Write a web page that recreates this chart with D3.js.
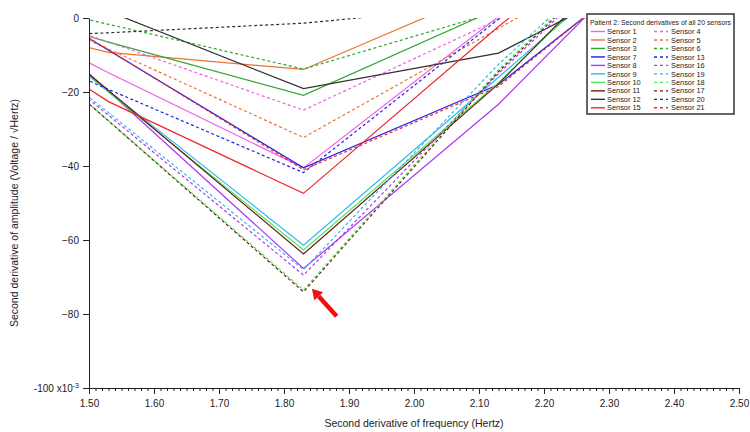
<!DOCTYPE html>
<html>
<head>
<meta charset="utf-8">
<script src="https://cdn.jsdelivr.net/npm/d3@7"></script>
<style>
  body { margin: 0; background: #fff; }
  svg { font-family: "Liberation Sans", Arial, sans-serif; }
  .axis text { font-size: 10px; fill: #222; }
  .axis path, .axis line { stroke: #222; }
</style>
</head>
<body>
<div id="chart"></div>
<script>
// x positions shared by every sensor
var xPoints = [1.23, 1.53, 1.83, 2.13, 2.43];

// second derivative of amplitude (x10^-3) at each x point
var sensor1 = [12.2, -14.8, -40.5, 0.4, 20];
var sensor2 = [3.7, -9.3, -13.9, 8.6, 20];
var sensor3 = [8.5, -6.5, -20.9, 2.6, 20];
var sensor4 = [11.5, -6.5, -24.9, -0.4, 30];
var sensor5 = [15.6, -8.4, -32.3, -2.8, 26.7];
var sensor6 = [10.3, -1.7, -13.8, 1.8, 20];
var sensor7 = [23.3, -8.7, -40.5, -18, 23.5];
var sensor8 = [28.2, -19.8, -67.7, -23.3, 29.7];
var sensor9 = [22, -19.7, -61.4, -16, 29.7];
var sensor10 = [22.9, -20.1, -62.7, -17.5, 34];
var sensor11 = [24.4, -19.6, -63.8, -17.8, 35.6];
var sensor12 = [5, 1.8, -19.1, -9.5, 17.6];
var sensor13 = [3.7, -19.3, -41.8, -0.3, 30];
var sensor15 = [11.4, -22.6, -47.4, -2.3, 40];
var sensor16 = [16.7, -26.3, -69.5, -15, 35];
var sensor17 = [18.2, -27.8, -74, -14.5, 36.1];
var sensor18 = [18.2, -27.8, -73.5, -14, 36.6];
var sensor19 = [16.4, -25.6, -68, -12.5, 35.6];
var sensor20 = [-6, -4.0, -1.4, 3.6, 10];
var sensor21 = [23, -8.6, -41, -18.5, 24];

var sensorNames = ["Sensor 1", "Sensor 2", "Sensor 3", "Sensor 4", "Sensor 5", "Sensor 6",
  "Sensor 7", "Sensor 8", "Sensor 9", "Sensor 10", "Sensor 11", "Sensor 12", "Sensor 13",
  "Sensor 15", "Sensor 16", "Sensor 17", "Sensor 18", "Sensor 19", "Sensor 20", "Sensor 21"];
var sensorValues = [sensor1, sensor2, sensor3, sensor4, sensor5, sensor6, sensor7, sensor8,
  sensor9, sensor10, sensor11, sensor12, sensor13, sensor15, sensor16, sensor17, sensor18,
  sensor19, sensor20, sensor21];

// legend layout (two columns, as in the original)
var legendLeft = ["Sensor 1", "Sensor 2", "Sensor 3", "Sensor 7", "Sensor 8", "Sensor 9",
  "Sensor 10", "Sensor 11", "Sensor 12", "Sensor 15"];
var legendRight = ["Sensor 4", "Sensor 5", "Sensor 6", "Sensor 13", "Sensor 16", "Sensor 19",
  "Sensor 18", "Sensor 17", "Sensor 20", "Sensor 21"];

var xTicks = [1.5, 1.6, 1.7, 1.8, 1.9, 2.0, 2.1, 2.2, 2.3, 2.4, 2.5];
var yTicks = [0, -20, -40, -60, -80, -100];

// styles
var colors = {
  "Sensor 1": "#f060e0", "Sensor 4": "#f060e0",
  "Sensor 2": "#f07030", "Sensor 5": "#f07030",
  "Sensor 3": "#30a830", "Sensor 6": "#30a830",
  "Sensor 7": "#2020e8", "Sensor 13": "#2020e8",
  "Sensor 8": "#a838f8", "Sensor 16": "#a838f8",
  "Sensor 9": "#30b8f0", "Sensor 19": "#30b8f0",
  "Sensor 10": "#50e850", "Sensor 18": "#50e850",
  "Sensor 11": "#681818", "Sensor 17": "#681818",
  "Sensor 12": "#303030", "Sensor 20": "#303030",
  "Sensor 15": "#f02828", "Sensor 21": "#f02828"
};
var dashed = ["Sensor 4", "Sensor 5", "Sensor 6", "Sensor 13", "Sensor 16", "Sensor 17",
  "Sensor 18", "Sensor 19", "Sensor 20", "Sensor 21"];

var svgWidth = 750, svgHeight = 432;
var margin = {top: 18, right: 11, bottom: 44, left: 89};
var width = svgWidth - margin.left - margin.right;
var height = svgHeight - margin.top - margin.bottom;

var svg = d3.select("#chart").append("svg")
  .attr("width", svgWidth).attr("height", svgHeight);

var chart = svg.append("g").attr("transform", `translate(${margin.left}, ${margin.top})`);

var xScale = d3.scaleLinear().domain([1.5, 2.5]).range([0, width]);
var yScale = d3.scaleLinear().domain([-100, 0]).range([height, 0]);

chart.append("clipPath").attr("id", "plotclip")
  .append("rect").attr("x", 0).attr("y", 0).attr("width", width).attr("height", height);

var line = d3.line()
  .x(function(d, i) { return xScale(xPoints[i]); })
  .y(function(d) { return yScale(d); });

chart.append("g").attr("clip-path", "url(#plotclip)")
  .selectAll("path").data(sensorValues).enter().append("path")
  .attr("d", line)
  .attr("fill", "none")
  .attr("stroke", function(d, i) { return colors[sensorNames[i]]; })
  .attr("stroke-width", 1.2)
  .attr("stroke-dasharray", function(d, i) { return dashed.indexOf(sensorNames[i]) >= 0 ? "3,2.5" : null; })
  .attr("stroke-dashoffset", function(d, i) { return sensorNames[i] === "Sensor 17" ? 2.75 : 0; });

// axes
var xAxis = d3.axisBottom(xScale).tickValues(xTicks).tickFormat(d3.format(".2f"))
  .tickSize(6).tickSizeOuter(0).tickPadding(6);
var xMinor = d3.axisBottom(xScale).tickValues(d3.range(0, 101).map(function(i) { return 1.5 + i * 0.01; }))
  .tickFormat("").tickSize(3).tickSizeOuter(0);
chart.append("g").attr("class", "axis").attr("transform", `translate(0, ${height})`).call(xMinor);
chart.append("g").attr("class", "axis x-axis").attr("transform", `translate(0, ${height})`).call(xAxis);

var yAxis = d3.axisLeft(yScale).tickValues(yTicks).tickSize(6).tickSizeOuter(0).tickPadding(4);
var yG = chart.append("g").attr("class", "axis y-axis").call(yAxis);
yG.selectAll(".tick text").filter(function(d) { return d === -100; })
  .text("-100 x10")
  .append("tspan").attr("dy", "-0.5em").attr("font-size", "7px").text("-3");

chart.append("text").attr("x", width / 2).attr("y", height + 39)
  .attr("text-anchor", "middle").attr("font-size", "10.5px").attr("fill", "#222")
  .text("Second derivative of frequency (Hertz)");

chart.append("text").attr("transform", `translate(${-71}, ${height / 2 + 10})rotate(270)`)
  .attr("text-anchor", "middle").attr("font-size", "10.5px").attr("fill", "#222")
  .text("Second derivative of amplitude (Voltage / \u221AHertz)");

// red arrow pointing at the deepest vertex
var tip = [xScale(1.843), yScale(-73.2)];
var tail = [xScale(1.881), yScale(-80.6)];
var ang = Math.atan2(tip[1] - tail[1], tip[0] - tail[0]);
var headLen = 10, headW = 6;
var base = [tip[0] - headLen * Math.cos(ang), tip[1] - headLen * Math.sin(ang)];
chart.append("line").attr("x1", tail[0]).attr("y1", tail[1]).attr("x2", base[0]).attr("y2", base[1])
  .attr("stroke", "#f01010").attr("stroke-width", 4.5);
chart.append("polygon")
  .attr("points", [tip,
    [base[0] + headW * Math.sin(ang), base[1] - headW * Math.cos(ang)],
    [base[0] - headW * Math.sin(ang), base[1] + headW * Math.cos(ang)]].map(function(p) { return p.join(","); }).join(" "))
  .attr("fill", "#f01010");

// legend
var legend = svg.append("g").attr("transform", "translate(587, 14)");
legend.append("rect").attr("x", 0).attr("y", 0).attr("width", 147).attr("height", 100)
  .attr("fill", "#fff").attr("stroke", "#333").attr("stroke-width", 1.5);
legend.append("text").attr("x", 3).attr("y", 10.5).attr("font-size", "7.2px").attr("fill", "#222")
  .attr("textLength", 141).attr("lengthAdjust", "spacingAndGlyphs")
  .text("Patient 2: Second derivatives of all 20 sensors");

function legendColumn(names, lx, tx) {
  var rows = legend.selectAll(null).data(names).enter().append("g")
    .attr("transform", function(d, i) { return `translate(0, ${17.5 + i * 8.48})`; });
  rows.append("line").attr("x1", lx).attr("x2", lx + 14).attr("y1", 0).attr("y2", 0)
    .attr("stroke", function(d) { return colors[d]; }).attr("stroke-width", 1.4)
    .attr("stroke-dasharray", function(d) { return dashed.indexOf(d) >= 0 ? "3,3" : null; });
  rows.append("text").attr("x", tx).attr("y", 2.6).attr("font-size", "7.4px").attr("fill", "#222")
    .text(function(d) { return d; });
}
legendColumn(legendLeft, 4, 20);
legendColumn(legendRight, 67, 84);
</script>
</body>
</html>
